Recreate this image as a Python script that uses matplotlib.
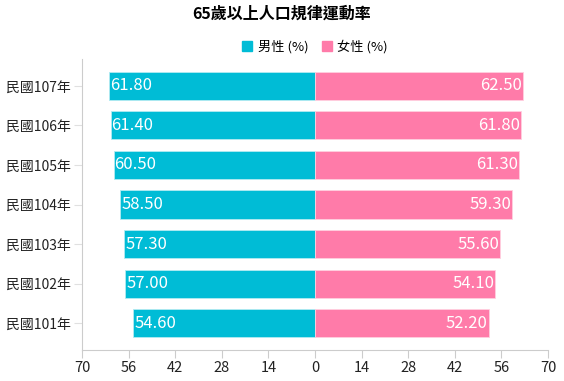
import matplotlib
matplotlib.use("Agg")
import matplotlib.pyplot as plt
from matplotlib.patches import Patch

plt.rcParams['font.family'] = ['Noto Sans CJK TC', 'DejaVu Sans']

categories = ['民國107年', '民國106年', '民國105年', '民國104年', '民國103年', '民國102年', '民國101年']
male = [61.80, 61.40, 60.50, 58.50, 57.30, 57.00, 54.60]
female = [62.50, 61.80, 61.30, 59.30, 55.60, 54.10, 52.20]
xticks = [-70, -56, -42, -28, -14, 0, 14, 28, 42, 56, 70]

c_male = '#00BCD6'
c_female = '#FF7BA9'

fig = plt.figure(figsize=(5.64, 3.81), dpi=100)
ax = fig.add_axes([82/564, 31/381, (548-82)/564, (350-59)/381])

n = len(categories)
ys = [n - 1 - i for i in range(n)]
ax.barh(ys, [-v for v in male], height=0.71, color=c_male, edgecolor='#B3EBF2', linewidth=0.6)
ax.barh(ys, female, height=0.71, color=c_female, edgecolor='#FFD0E0', linewidth=0.6)

for y, m, f in zip(ys, male, female):
    ax.text(-m + 0.3, y, f'{m:.2f}', color='white', fontsize=12, va='center', ha='left')
    ax.text(f - 0.3, y, f'{f:.2f}', color='white', fontsize=12, va='center', ha='right')

ax.set_xlim(-70, 70)
ax.set_ylim(-0.68, n - 1 + 0.68)
ax.set_xticks(xticks)
ax.set_xticklabels([str(abs(v)) for v in xticks], fontsize=10.5)
ax.set_yticks(ys)
ax.set_yticklabels(categories, fontsize=10)
for s in ['top', 'right']:
    ax.spines[s].set_visible(False)
for s in ['left', 'bottom']:
    ax.spines[s].set_color('#CCCCCC')
ax.tick_params(axis='x', colors='#CCCCCC', labelcolor='#222222', length=6, pad=2)
ax.tick_params(axis='y', colors='#E0E0E0', labelcolor='#222222', length=6, pad=2)

fig.text(0.5, 1 - 14/381, '65歲以上人口規律運動率', ha='center', va='center', fontsize=11.5, fontweight='bold')
handles = [Patch(color=c_male, label='男性 (%)'), Patch(color=c_female, label='女性 (%)')]
fig.legend(handles=handles, loc='center', bbox_to_anchor=(315/564, 1 - 47/381), ncol=2, frameon=False,
           fontsize=9.5, handlelength=0.8, handleheight=0.8, handletextpad=0.4, columnspacing=1.0)

fig.savefig('out.png', dpi=100)
